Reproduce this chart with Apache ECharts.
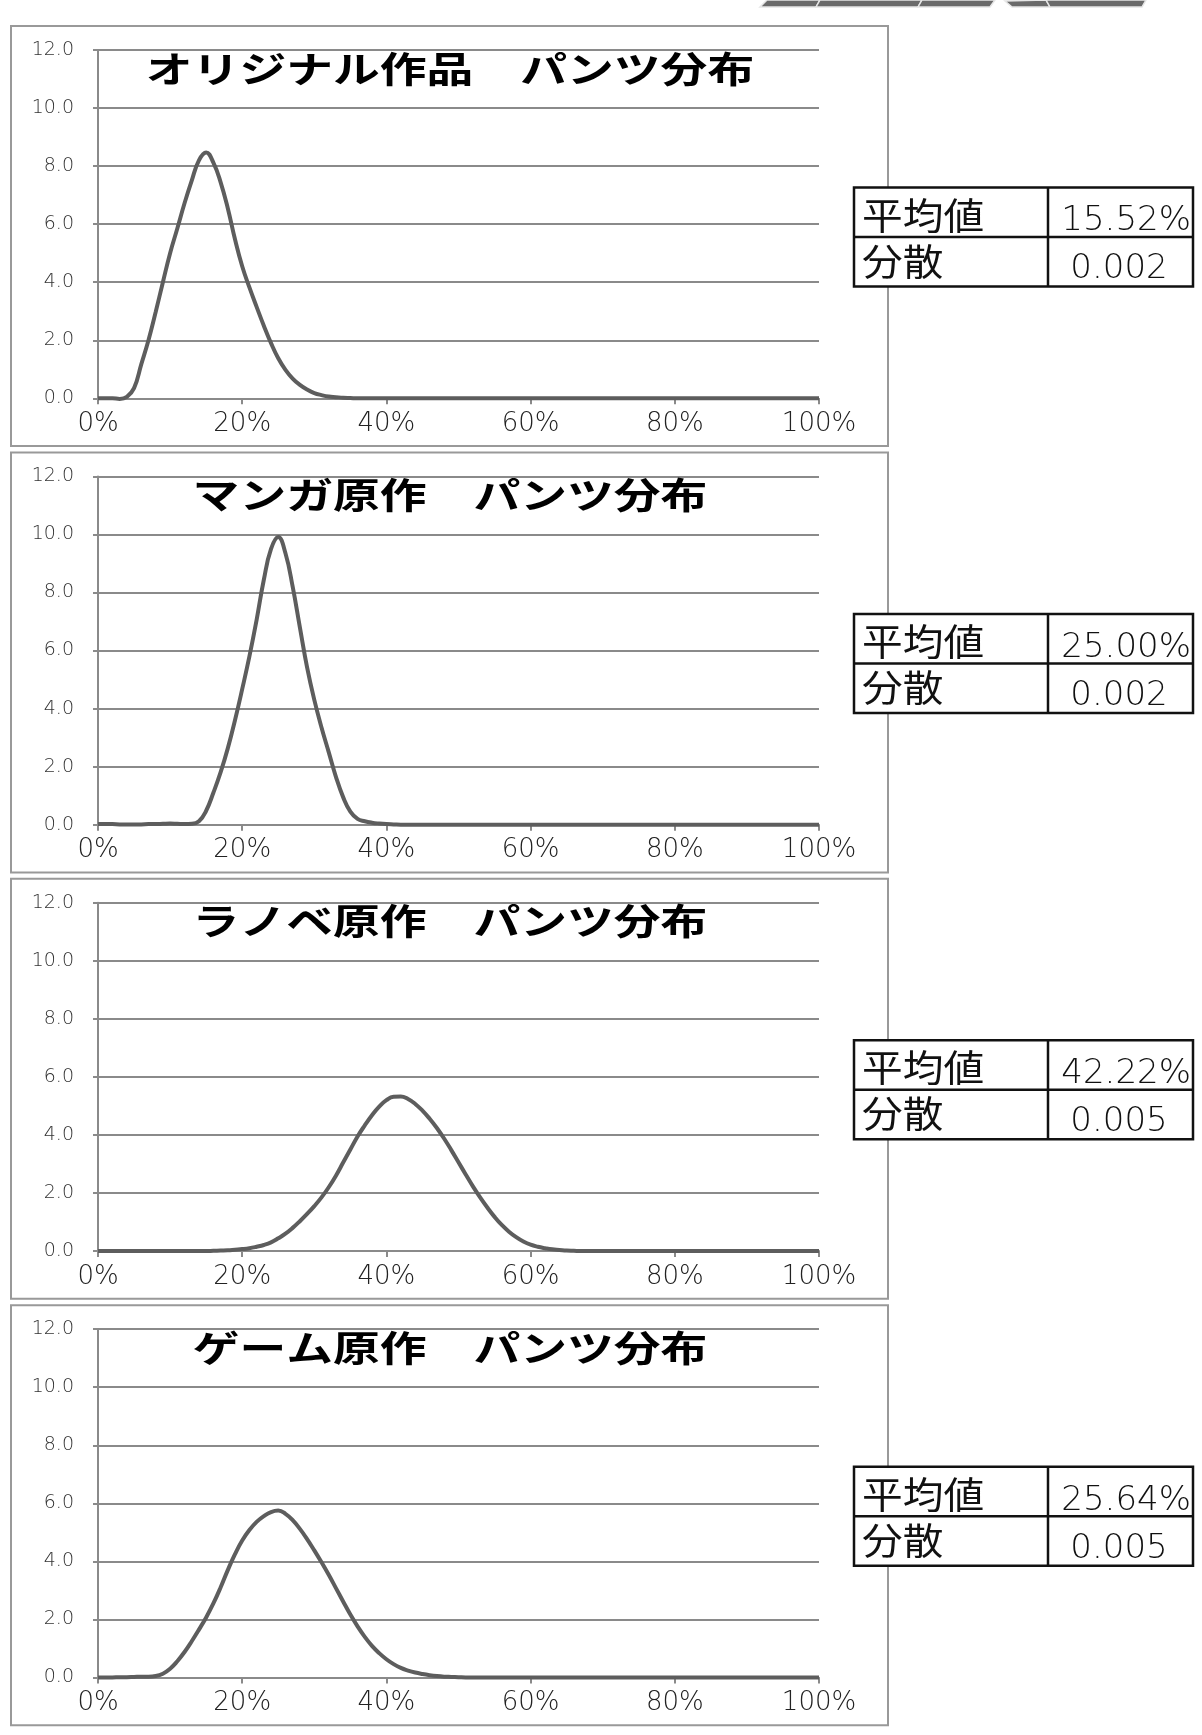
<!DOCTYPE html>
<html>
<head>
<meta charset="utf-8">
<script src="https://cdn.jsdelivr.net/npm/echarts@6.0.0/dist/echarts.min.js"></script>
<style>
html, body { margin: 0; padding: 0; background: #fff; }
#container { width: 1202px; height: 1735px; }
</style>
</head>
<body>
<div id="container"></div>
<script>
var dom = document.getElementById('container');
var myChart = echarts.init(dom, null, { renderer: 'canvas' });

// panel titles and table values
var titles = [
  'オリジナル作品　パンツ分布',
  'マンガ原作　パンツ分布',
  'ラノベ原作　パンツ分布',
  'ゲーム原作　パンツ分布'
];
var meanLabel = '平均値';
var varLabel = '分散';
var means = ['15.52%', '25.00%', '42.22%', '25.64%'];
var variances = ['0.002', '0.002', '0.005', '0.005'];

// x positions (percent)
var xPct = [0, 1, 2, 3, 4, 5, 6, 7, 8, 9, 10, 11, 12, 13, 14, 15, 16, 17, 18, 19,
  20, 21, 22, 23, 24, 25, 26, 27, 28, 29, 30, 31, 32, 33, 34, 35, 36, 37, 38, 39,
  40, 41, 42, 43, 44, 45, 46, 47, 48, 49, 50, 51, 52, 53, 54, 55, 56, 57, 58, 59,
  60, 61, 62, 63, 64, 65, 66, 67, 68, 69, 70, 80, 90, 100];

// distributions
var originalValues = [0, 0, 0, -0.02, 0.05, 0.35, 1.17, 2.0, 2.97, 4.0,
  5.0, 5.85, 6.72, 7.5, 8.2, 8.47, 8.12, 7.45, 6.55, 5.48,
  4.55, 3.82, 3.15, 2.5, 1.9, 1.38, 0.98, 0.68, 0.46, 0.3,
  0.18, 0.11, 0.06, 0.04, 0.02, 0.01, 0, 0, 0, 0,
  0, 0, 0, 0, 0, 0, 0, 0, 0, 0,
  0, 0, 0, 0, 0, 0, 0, 0, 0, 0,
  0, 0, 0, 0, 0, 0, 0, 0, 0, 0,
  0, 0, 0, 0];
var mangaValues = [0.02, 0.02, 0.02, 0.01, 0.01, 0.01, 0.01, 0.02, 0.02, 0.03,
  0.04, 0.03, 0.02, 0.03, 0.12, 0.48, 1.1, 1.8, 2.63, 3.6,
  4.67, 5.8, 7.06, 8.44, 9.5, 9.91, 9.35, 8.2, 6.8, 5.42,
  4.3, 3.35, 2.5, 1.65, 0.95, 0.45, 0.2, 0.12, 0.07, 0.04,
  0.02, 0.01, 0, 0, 0, 0, 0, 0, 0, 0,
  0, 0, 0, 0, 0, 0, 0, 0, 0, 0,
  0, 0, 0, 0, 0, 0, 0, 0, 0, 0,
  0, 0, 0, 0];
var novelValues = [0, 0, 0, 0, 0, 0, 0, 0, 0, 0,
  0, 0, 0, 0, 0, 0, 0.01, 0.02, 0.03, 0.05,
  0.07, 0.1, 0.15, 0.21, 0.3, 0.44, 0.6, 0.8, 1.03, 1.28,
  1.55, 1.85, 2.2, 2.6, 3.05, 3.5, 3.95, 4.33, 4.68, 4.98,
  5.2, 5.32, 5.33, 5.24, 5.07, 4.84, 4.56, 4.24, 3.88, 3.48,
  3.06, 2.64, 2.23, 1.85, 1.5, 1.18, 0.9, 0.67, 0.48, 0.33,
  0.22, 0.15, 0.1, 0.06, 0.04, 0.02, 0.01, 0, 0, 0,
  0, 0, 0, 0];
var gameValues = [0, 0, 0, 0.01, 0.01, 0.02, 0.03, 0.03, 0.05, 0.13,
  0.3, 0.56, 0.88, 1.25, 1.65, 2.07, 2.55, 3.1, 3.7, 4.25,
  4.72, 5.08, 5.36, 5.56, 5.7, 5.75, 5.64, 5.42, 5.12, 4.77,
  4.38, 3.97, 3.54, 3.08, 2.62, 2.17, 1.76, 1.4, 1.09, 0.84,
  0.63, 0.46, 0.33, 0.24, 0.17, 0.12, 0.08, 0.05, 0.03, 0.02,
  0.01, 0, 0, 0, 0, 0, 0, 0, 0, 0,
  0, 0, 0, 0, 0, 0, 0, 0, 0, 0,
  0, 0, 0, 0];

var allValues = [originalValues, mangaValues, novelValues, gameValues];

function buildOption() {
  var gray = '#8a8a8a';
  var lineColor = '#5d5d5d';
  var panelTop0 = 26, panelStep = 426.4, panelH = 420;
  var grids = [], xAxes = [], yAxes = [], series = [], graphics = [];

  for (var i = 0; i < 4; i++) {
    var pTop = panelTop0 + i * panelStep;
    var vals = allValues[i];

    grids.push({ left: 98, width: 721, top: pTop + 24, height: 348.3 });

    xAxes.push({
      type: 'value', gridIndex: i, min: 0, max: 100, interval: 20,
      axisLine: { show: true, onZero: false, lineStyle: { color: gray, width: 2 } },
      axisTick: { show: true, length: 6, lineStyle: { color: gray, width: 2 } },
      axisLabel: {
        margin: 13, fontSize: 26, fontFamily: 'DejaVu Sans', fontWeight: 300, color: '#222',
        formatter: function (v) { return v + '%'; }
      },
      splitLine: { show: false }
    });

    yAxes.push({
      type: 'value', gridIndex: i, min: 0, max: 12, interval: 2,
      axisLine: { show: true, lineStyle: { color: gray, width: 2 } },
      axisTick: { show: true, length: 5, lineStyle: { color: gray, width: 2 } },
      axisLabel: {
        margin: 24, fontSize: 19, fontFamily: 'DejaVu Sans', fontWeight: 300, color: '#333',
        formatter: function (v) { return v.toFixed(1); }
      },
      splitLine: { show: true, lineStyle: { color: gray, width: 2 } }
    });

    series.push({
      type: 'line', xAxisIndex: i, yAxisIndex: i,
      data: xPct.map(function (x, k) { return [x, vals[k]]; }),
      smooth: 0.45, symbol: 'none', clip: false,
      lineStyle: { color: lineColor, width: 4 },
      itemStyle: { color: lineColor },
      z: 5
    });

    // panel frame
    graphics.push({
      type: 'rect', z: -1,
      shape: { x: 11, y: pTop, width: 877, height: panelH },
      style: { fill: 'transparent', stroke: '#999', lineWidth: 2 }
    });

    // title
    graphics.push({
      type: 'text', z: 50, x: 450, y: pTop + 43, scaleX: 1.3,
      style: {
        text: titles[i], fill: '#000',
        font: 'bold 36px "Noto Sans CJK JP"',
        textAlign: 'center', textVerticalAlign: 'middle'
      }
    });

    // stats table
    var tt = pTop + 161.5;
    graphics.push({
      type: 'rect', z: 60,
      shape: { x: 854, y: tt, width: 339, height: 99 },
      style: { fill: '#fff', stroke: '#111', lineWidth: 2.5 }
    });
    graphics.push({
      type: 'line', z: 61,
      shape: { x1: 854, y1: tt + 49.5, x2: 1193, y2: tt + 49.5 },
      style: { stroke: '#111', lineWidth: 2.5 }
    });
    graphics.push({
      type: 'line', z: 61,
      shape: { x1: 1048, y1: tt, x2: 1048, y2: tt + 99 },
      style: { stroke: '#111', lineWidth: 2.5 }
    });
    graphics.push({
      type: 'text', z: 62, x: 862, y: tt + 28, scaleX: 1.1,
      style: {
        text: meanLabel, fill: '#111', font: '37px "Noto Sans CJK JP"',
        textAlign: 'left', textVerticalAlign: 'middle'
      }
    });
    graphics.push({
      type: 'text', z: 62, x: 862, y: tt + 74, scaleX: 1.1,
      style: {
        text: varLabel, fill: '#111', font: '37px "Noto Sans CJK JP"',
        textAlign: 'left', textVerticalAlign: 'middle'
      }
    });
    graphics.push({
      type: 'text', z: 62, x: 1191, y: tt + 34,
      style: {
        text: means[i], fill: '#111', font: '300 34px "DejaVu Sans"',
        textAlign: 'right', textVerticalAlign: 'middle'
      }
    });
    graphics.push({
      type: 'text', z: 62, x: 1119, y: tt + 82,
      style: {
        text: variances[i], fill: '#111', font: '300 34px "DejaVu Sans"',
        textAlign: 'center', textVerticalAlign: 'middle'
      }
    });
  }

  // cropped banner shapes at the top edge
  var deco = [
    [[760, 7], [767, 0], [820, 0], [816, 7]],
    [[816, 7], [820, 0], [922, 0], [918, 7]],
    [[918, 7], [922, 0], [995, 0], [990, 7]],
    [[1005, 1], [1012, 7], [1050, 7], [1046, 0]],
    [[1050, 7], [1046, 0], [1146, 0], [1142, 7]]
  ];
  deco.forEach(function (pts) {
    graphics.push({
      type: 'polygon', z: 10,
      shape: { points: pts },
      style: { fill: '#6a6a6a', stroke: '#e6e6e6', lineWidth: 1.5 }
    });
  });

  return {
    animation: false,
    backgroundColor: '#fff',
    grid: grids,
    xAxis: xAxes,
    yAxis: yAxes,
    series: series,
    graphic: graphics
  };
}

var option = buildOption();
myChart.setOption(option);
window.addEventListener('resize', myChart.resize);
</script>
</body>
</html>
